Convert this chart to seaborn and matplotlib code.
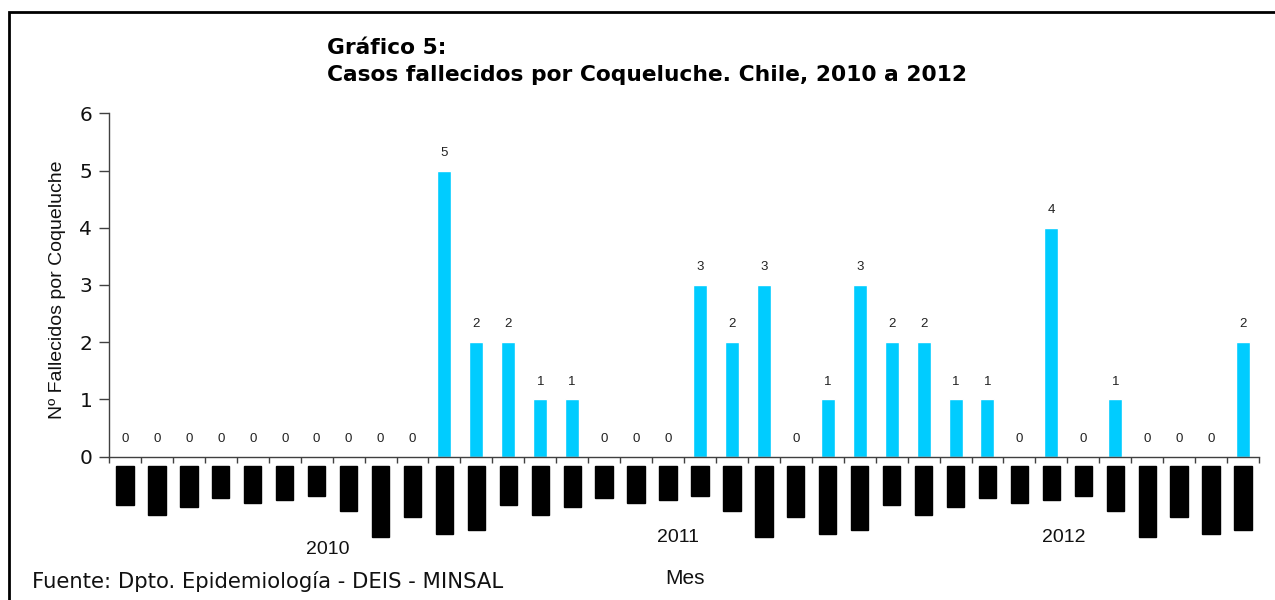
import matplotlib
matplotlib.use("Agg")
import matplotlib.pyplot as plt
import matplotlib.transforms as mtransforms
from matplotlib.patches import Rectangle
import seaborn as sns
import pandas as pd

# ---- data ----
meses = ["Enero", "Febrero", "Marzo", "Abril", "Mayo", "Junio", "Julio",
         "Agosto", "Septiembre", "Octubre", "Noviembre", "Diciembre"]
anios = ["2010", "2011", "2012"]
fallecidos_2010 = [0, 0, 0, 0, 0, 0, 0, 0, 0, 0, 5, 2]
fallecidos_2011 = [2, 1, 1, 0, 0, 0, 3, 2, 3, 0, 1, 3]
fallecidos_2012 = [2, 2, 1, 1, 0, 4, 0, 1, 0, 0, 0, 2]

valores = fallecidos_2010 + fallecidos_2011 + fallecidos_2012
etiquetas = meses * 3
df = pd.DataFrame({"idx": list(range(len(valores))), "mes": etiquetas, "casos": valores})

sns.set_theme(style="white")
plt.rcParams["font.family"] = ["DejaVu Sans"]

fig = plt.figure(figsize=(12.75, 6), dpi=100)
ax = fig.add_axes([109 / 1275, 143.3 / 600, 1150 / 1275, 343.4 / 600])

sns.barplot(data=df, x="idx", y="casos", color="#00CCFF", saturation=1,
            width=0.44, ax=ax)

n = len(valores)
ax.set_xlim(-0.5, n - 0.5)
ax.set_ylim(0, 6)

# value labels
for cont in ax.containers:
    ax.bar_label(cont, labels=[str(v) for v in valores], padding=8.5,
                 fontsize=9.5, family="Liberation Sans", color="#222222")

# axes styling
for s in ["top", "right"]:
    ax.spines[s].set_visible(False)
for s in ["left", "bottom"]:
    ax.spines[s].set_color("#404040")
    ax.spines[s].set_linewidth(1.0)

ax.set_yticks(range(0, 7))
ax.tick_params(axis="y", which="major", direction="out", length=7, width=1,
               color="#404040", labelsize=14.5, pad=5, left=True,
               labelcolor="#111111")

# x: major ticks at category boundaries, minor labels at centers
ax.set_xticks([i - 0.5 for i in range(n + 1)])
ax.set_xticklabels([])
ax.set_xticks(list(range(n)), minor=True)
ax.set_xticklabels(etiquetas, minor=True, rotation=90, fontsize=8,
                   color="black")
for t in ax.get_xticklabels(minor=True):
    t.set_bbox(dict(facecolor="black", edgecolor="black",
                    boxstyle="square,pad=0.33"))
ax.tick_params(axis="x", which="major", direction="out", length=4.5, width=1,
               color="#404040", bottom=True)
ax.tick_params(axis="x", which="minor", length=0, pad=9.0, bottom=True)
ax.set_xlabel("")
ax.set_ylabel("")

# year labels
trans = mtransforms.blended_transform_factory(ax.transData, fig.transFigure)
anio_x = [6.34, 17.3, 29.4]
anio_y = [50 / 600, 63 / 600, 63 / 600]
for lab, xx, yy in zip(anios, anio_x, anio_y):
    ax.text(xx, yy, lab, transform=trans, ha="center", va="center",
            fontsize=14, family="Liberation Sans", color="#111111")

# texts
fig.text(327 / 1275, 1 - 48 / 600, "Gráfico 5:", ha="left", va="center",
         fontsize=15.7, fontweight="bold", color="black")
fig.text(327 / 1275, 1 - 75 / 600,
         "Casos fallecidos por Coqueluche. Chile, 2010 a 2012",
         ha="left", va="center", fontsize=15.7, fontweight="bold", color="black")
fig.text(57 / 1275, 1 - 290 / 600, "Nº Fallecidos por Coqueluche",
         rotation=90, ha="center", va="center", fontsize=14,
         family="Liberation Sans", color="#111111")
fig.text(685 / 1275, 1 - 578 / 600, "Mes", ha="center", va="center",
         fontsize=15, family="Liberation Sans", color="#111111")
fig.text(32 / 1275, 1 - 581 / 600, "Fuente: Dpto. Epidemiología - DEIS - MINSAL",
         ha="left", va="center", fontsize=15.2, color="#111111")

# outer frame (extends beyond right and bottom edges)
fig.patches.append(Rectangle((9 / 1275, -0.1), 1.2, 1 - 12 / 600 + 0.1,
                             transform=fig.transFigure, fill=False,
                             edgecolor="black", linewidth=2, zorder=10))

fig.savefig("out.png", dpi=100)
